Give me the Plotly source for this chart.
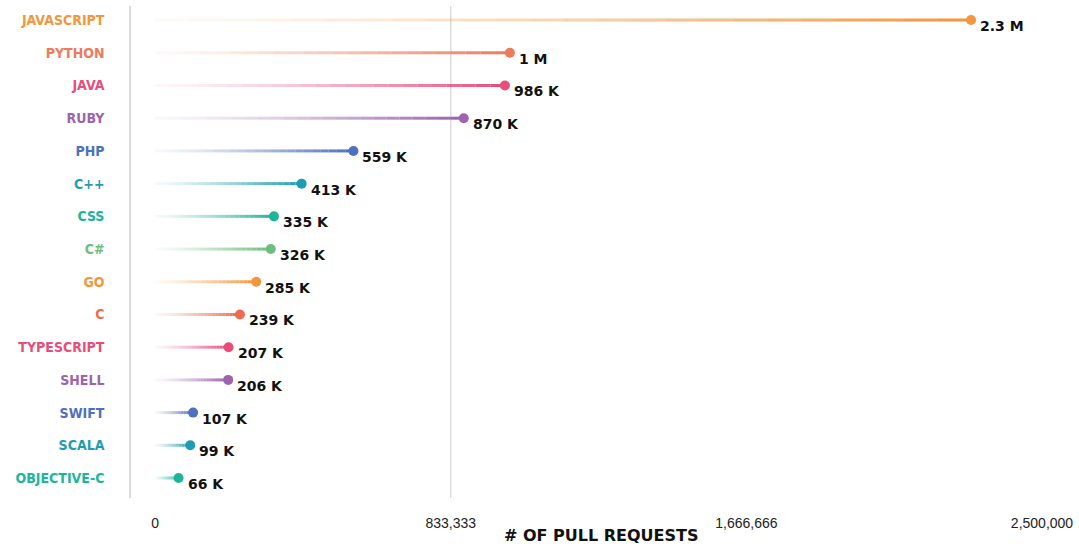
import plotly.graph_objects as go

languages = ["JAVASCRIPT", "PYTHON", "JAVA", "RUBY", "PHP", "C++", "CSS", "C#",
             "GO", "C", "TYPESCRIPT", "SHELL", "SWIFT", "SCALA", "OBJECTIVE-C"]
pull_requests = [2300000, 1000000, 986000, 870000, 559000, 413000, 335000, 326000,
                 285000, 239000, 207000, 206000, 107000, 99000, 66000]
value_labels = ["2.3 M", "1 M", "986 K", "870 K", "559 K", "413 K", "335 K", "326 K",
                "285 K", "239 K", "207 K", "206 K", "107 K", "99 K", "66 K"]
colors = ["#F5963C", "#EF7A5C", "#E84D7B", "#9E63AE", "#4D70C0", "#1E9CB3", "#1DB59A",
          "#6DBE7E", "#F5963C", "#EE6B50", "#E84D7B", "#9E63AE", "#4D70C0", "#1E9CB3",
          "#1DB59A"]
tick_values = [0, 833333, 1666666, 2500000]
tick_labels = ["0", "833,333", "1,666,666", "2,500,000"]


def rgba(hex_color, a):
    h = hex_color.lstrip("#")
    r, g, b = int(h[0:2], 16), int(h[2:4], 16), int(h[4:6], 16)
    return f"rgba({r},{g},{b},{a:.3f})"


fig = go.Figure()
N = 24
for i, (v, c) in enumerate(zip(pull_requests, colors)):
    for k in range(N):
        x0 = v * k / N
        x1 = v * (k + 1) / N
        a = 0.04 + 0.96 * ((k + 1) / N) ** 1.4
        fig.add_trace(go.Scatter(x=[x0, x1], y=[i, i], mode="lines",
                                 line=dict(color=rgba(c, a), width=3),
                                 hoverinfo="skip", showlegend=False))

fig.add_trace(go.Scatter(x=pull_requests, y=list(range(len(languages))), mode="markers",
                         marker=dict(color=colors, size=10), showlegend=False,
                         hovertext=languages))

for i, (v, t) in enumerate(zip(pull_requests, value_labels)):
    fig.add_annotation(x=v, y=i, text=f"<b>{t}</b>", showarrow=False,
                       xanchor="left", yanchor="middle", xshift=7, yshift=-6,
                       font=dict(family="DejaVu Sans", size=14, color="#111"))

fig.add_shape(type="line", x0=tick_values[1], x1=tick_values[1], xref="x",
              y0=0, y1=1, yref="paper", line=dict(color="#dcdcdc", width=1.5),
              layer="below")

fig.add_annotation(x=0.517, y=-0.077, xref="paper", yref="paper",
                   text="<b># OF PULL REQUESTS</b>", showarrow=False,
                   xanchor="center", yanchor="middle",
                   font=dict(family="DejaVu Sans", size=16, color="#111"))

ticktext = [f"<span style='color:{c}'><b>{l}</b></span>" for l, c in zip(languages, colors)]

fig.update_layout(
    width=1079, height=547,
    margin=dict(l=131, r=37, t=6, b=49),
    plot_bgcolor="white", paper_bgcolor="white",
    xaxis=dict(range=[-68000, 2500000], tickvals=tick_values, ticktext=tick_labels,
               showgrid=False, zeroline=False, showline=False,
               ticks="outside", ticklen=12, tickcolor="rgba(0,0,0,0)",
               tickfont=dict(family="Liberation Sans, Arial", size=14, color="#222")),
    yaxis=dict(range=[14.61, -0.43], tickvals=list(range(len(languages))),
               ticktext=ticktext, showgrid=False, zeroline=False,
               showline=True, linecolor="#dcdcdc", linewidth=1.5,
               ticks="outside", ticklen=22, tickcolor="rgba(0,0,0,0)",
               tickfont=dict(family="DejaVu Sans Condensed", size=14)),
)

fig.write_html("out.html")
